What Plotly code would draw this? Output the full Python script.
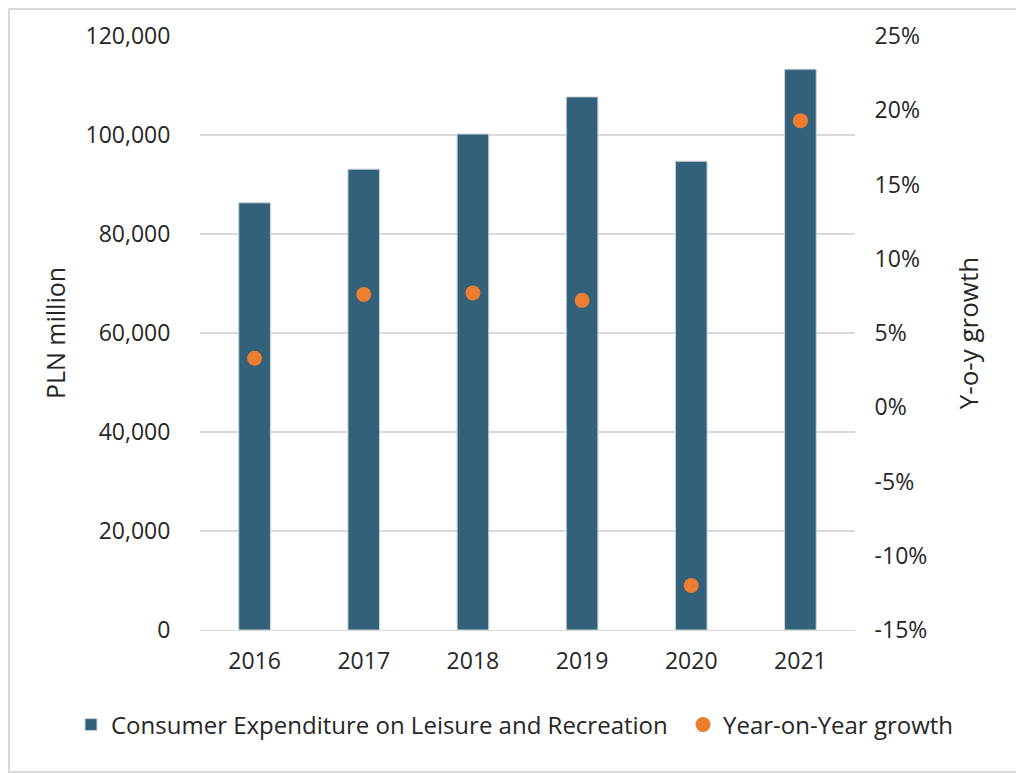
import plotly.graph_objects as go

# Data
years = ['2016', '2017', '2018', '2019', '2020', '2021']
spend_pln_m = [86300, 93100, 100200, 107700, 94700, 113300]
yoy_growth = [0.033, 0.076, 0.077, 0.072, -0.120, 0.193]

# right axis ticks, written with a plain hyphen like the original
growth_ticks = [-0.15, -0.10, -0.05, 0.0, 0.05, 0.10, 0.15, 0.20, 0.25]
growth_labels = ['%d%%' % round(v * 100) for v in growth_ticks]

bar_color = '#336179'
dot_color = '#ED7D31'
font_name = 'Open Sans'

fig = go.Figure()

# bars on primary axis
fig.add_trace(go.Bar(x=years, y=spend_pln_m, name='Consumer Expenditure on Leisure and Recreation',
                     marker=dict(color=bar_color, line=dict(color='#c9d6de', width=1)),
                     width=0.29, yaxis='y', legend='legend'))

# growth dots on secondary axis
fig.add_trace(go.Scatter(x=years, y=yoy_growth, name='Year-on-Year growth', mode='markers',
                         marker=dict(color=dot_color, size=15), yaxis='y2', legend='legend2'))

# page puts the graph 8px in from the corner, so size/margins are shifted by that
W, H = 1016, 765
ml, mr, mt, mb = 192, 169, 28, 143
pw, ph = W - ml - mr, H - mt - mb
leg_y = (H - mb - 717) / ph

fig.update_layout(
    width=W, height=H,
    margin=dict(l=ml, r=mr, t=mt, b=mb, autoexpand=False),
    paper_bgcolor='white', plot_bgcolor='white',
    font=dict(family=font_name, size=23, color='#262626'),
    showlegend=True,
    # two one-item legends side by side so the long label never wraps
    legend=dict(x=(63 - ml) / pw, xanchor='left', y=leg_y, yanchor='middle',
                font=dict(size=24), itemwidth=30, bgcolor='rgba(0,0,0,0)'),
    legend2=dict(x=(675 - ml) / pw, xanchor='left', y=leg_y, yanchor='middle',
                 font=dict(size=24), itemwidth=30, bgcolor='rgba(0,0,0,0)'),
    xaxis=dict(showgrid=False, showline=True, linecolor='#d9d9d9', linewidth=1,
               ticks='outside', ticklen=10, tickcolor='rgba(0,0,0,0)'),
    yaxis=dict(range=[0, 120000], dtick=20000, tickformat=',', showgrid=True,
               gridcolor='#d9d9d9', gridwidth=1.5, zeroline=False,
               ticks='outside', ticklen=24, tickcolor='rgba(0,0,0,0)',
               title=dict(text='PLN million', standoff=12, font=dict(size=25))),
    yaxis2=dict(range=[-0.15, 0.25], tickvals=growth_ticks, ticktext=growth_labels,
                overlaying='y', side='right', showgrid=False, zeroline=False,
                ticks='outside', ticklen=14, tickcolor='rgba(0,0,0,0)',
                title=dict(text='Y-o-y growth', standoff=33, font=dict(size=26))),
    bargap=0.7,
)

# light frame round the whole chart area
fig.add_shape(type='rect', xref='paper', yref='paper',
              x0=-(ml - 1) / pw, x1=1 + (mr - 1) / pw,
              y0=-(mb - 1) / ph, y1=1 + (mt - 1) / ph,
              line=dict(color='#d9d9d9', width=2), layer='below')

fig.write_html('out.html')
